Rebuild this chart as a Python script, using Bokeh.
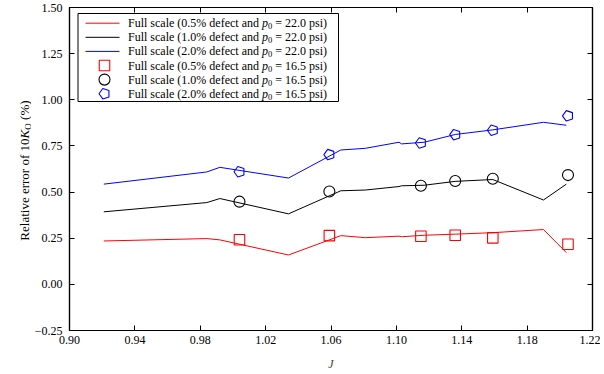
import numpy as np
from bokeh.plotting import figure
from bokeh.layouts import row
from bokeh.core.properties import value
from bokeh.models import (Range1d, FixedTicker, LinearAxis, ColumnDataSource,
                          Ngon, PrintfTickFormatter)
from bokeh.embed import file_html
from bokeh.resources import INLINE

# ---- data -------------------------------------------------------------
# advance coefficient J for the p0 = 22.0 psi computations (lines)
J_line = [0.921, 0.984, 0.992, 1.034, 1.066, 1.081, 1.1016, 1.1032,
          1.117, 1.136, 1.159, 1.190, 1.204]
err_05_220 = [0.235, 0.248, 0.241, 0.159, 0.264, 0.253, 0.261, 0.258,
              0.266, 0.272, 0.280, 0.297, 0.172]
err_10_220 = [0.393, 0.443, 0.465, 0.382, 0.507, 0.511, 0.530, 0.534,
              0.537, 0.558, 0.568, 0.457, 0.543]
err_20_220 = [0.543, 0.609, 0.634, 0.576, 0.728, 0.737, 0.770, 0.761,
              0.770, 0.812, 0.837, 0.878, 0.862]

# advance coefficient J for the p0 = 16.5 psi computations (markers)
J_mark = [1.004, 1.059, 1.115, 1.136, 1.159, 1.205]
err_05_165 = [0.242, 0.264, 0.261, 0.266, 0.252, 0.217]
err_10_165 = [0.448, 0.503, 0.534, 0.560, 0.572, 0.592]
err_20_165 = [0.610, 0.703, 0.766, 0.811, 0.835, 0.913]

x_ticks = [0.90, 0.94, 0.98, 1.02, 1.06, 1.10, 1.14, 1.18, 1.22]
y_ticks = [-0.25, 0.00, 0.25, 0.50, 0.75, 1.00, 1.25, 1.50]

# legend entries: defect size and inlet pressure p0 of each case
leg_defect = ["0.5%", "1.0%", "2.0%", "0.5%", "1.0%", "2.0%"]
leg_p0 = ["22.0", "22.0", "22.0", "16.5", "16.5", "16.5"]

# ---- layout constants ------------------------------------------------
FONT = "Liberation Serif"
W, H = 600, 374
TITLE_W = 31                      # strip holding the vertical y title
X0, X1 = 0.90, 1.22
Y0, Y1 = -0.25, 1.50
FL, FT, FW, FH = 69, 7, 523, 323  # plot frame placement on the page

# legend box geometry, page pixels
LEG_L, LEG_T, LEG_R, LEG_B = 77.5, 13.0, 338.0, 101.0
ROW0, ROW_STEP = 22.7, 14.1
SAMPLE_X0, SAMPLE_X1 = 85.0, 119.0
TEXT_X = 127.5

NO_SHRINK = {"flex-shrink": "0", "flex-grow": "0"}


def dx(px):
    """page x pixel -> J value in the main plot"""
    return X0 + (px - FL) / FW * (X1 - X0)


def dy(py):
    """page y pixel (from top) -> error value in the main plot"""
    return Y1 - (py - FT) / FH * (Y1 - Y0)


# ---- main plot -------------------------------------------------------
p = figure(width=W - TITLE_W, height=H, output_backend="svg",
           toolbar_location=None, styles=NO_SHRINK,
           x_range=Range1d(X0, X1), y_range=Range1d(Y0, Y1),
           min_border_left=FL - TITLE_W, min_border_right=W - FL - FW,
           min_border_top=FT, min_border_bottom=H - FT - FH)
p.xgrid.visible = False
p.ygrid.visible = False
p.outline_line_color = "black"
p.outline_line_width = 1.2


def style_axis(ax, ticks, show_labels):
    ax.ticker = FixedTicker(ticks=ticks)
    ax.major_tick_in = 5
    ax.major_tick_out = 0
    ax.minor_tick_line_color = None
    ax.axis_line_color = "black"
    ax.axis_line_width = 1.2
    ax.major_tick_line_width = 1
    ax.major_label_text_font = FONT
    if show_labels:
        ax.major_label_text_color = "black"
        ax.major_label_text_font_size = "12px"
    else:
        ax.major_label_text_color = None
        ax.major_label_text_font_size = "1px"
        ax.major_label_standoff = 0


bx = p.xaxis[0]
style_axis(bx, x_ticks, True)
bx.formatter = PrintfTickFormatter(format="%.2f")
bx.major_label_standoff = 5
bx.axis_label = "J"
bx.axis_label_text_font = FONT
bx.axis_label_text_font_style = "italic"
bx.axis_label_text_font_size = "12px"
bx.axis_label_standoff = 10

ly = p.yaxis[0]
style_axis(ly, y_ticks, True)
ly.formatter = PrintfTickFormatter(format="%.2f")
ly.major_label_overrides = {-0.25: "\u22120.25"}
ly.major_label_standoff = 7

top = LinearAxis()
style_axis(top, x_ticks, False)
p.add_layout(top, "above")
right = LinearAxis()
style_axis(right, y_ticks, False)
p.add_layout(right, "right")

# ---- series -----------------------------------------------------------
colors = ["red", "black", "blue"]
for ys, c in zip([err_05_220, err_10_220, err_20_220], colors):
    p.line(J_line, ys, line_color=c, line_width=1)

p.scatter(J_mark, err_05_165, marker="square", size=10.5,
          fill_color=None, line_color="red", line_width=1.1)
p.scatter(J_mark, err_10_165, marker="circle", size=11,
          fill_color=None, line_color="black", line_width=1.1)


def pentagons(xs, ys):
    src = ColumnDataSource(dict(x=xs, y=ys))
    p.add_glyph(src, Ngon(x="x", y="y", radius=5.5, radius_units="screen",
                          n=5, angle=np.pi / 2, fill_color=None,
                          line_color="blue", line_width=1.1))


pentagons(J_mark, err_20_165)

# ---- legend (italic p with subscript 0 in every entry) -----------------
rows_y = [ROW0 + i * ROW_STEP for i in range(len(leg_defect))]
p.quad(left=[dx(LEG_L)], right=[dx(LEG_R)], top=[dy(LEG_T)], bottom=[dy(LEG_B)],
       fill_color="white", line_color="black", line_width=1)
# line samples for the three p0 = 22.0 psi cases
p.segment(x0=[dx(SAMPLE_X0)] * 3, x1=[dx(SAMPLE_X1)] * 3,
          y0=[dy(v) for v in rows_y[:3]], y1=[dy(v) for v in rows_y[:3]],
          line_color=colors, line_width=1)
# marker samples for the three p0 = 16.5 psi cases
mid_x = dx((SAMPLE_X0 + SAMPLE_X1) / 2 + 2)
p.scatter([mid_x], [dy(rows_y[3])], marker="square", size=10.5,
          fill_color=None, line_color="red", line_width=1.1)
p.scatter([mid_x], [dy(rows_y[4])], marker="circle", size=11,
          fill_color=None, line_color="black", line_width=1.1)
pentagons([mid_x], [dy(rows_y[5])])

W_HEAD = 134.0   # width of "Full scale (x.x% defect and " at 12px
W_P = 6.0        # italic p
W_SUB = 4.3      # subscript 0
W_SP = 3.0       # word space
txt_kw = dict(text_font=value(FONT), text_baseline="middle", text_align="left",
              text_color="black")
p.text(x=[dx(TEXT_X)] * 6, y=[dy(v) for v in rows_y],
       text=[f"Full scale ({d} defect and" for d in leg_defect],
       text_font_size=value("12px"), **txt_kw)
p.text(x=[dx(TEXT_X + W_HEAD)] * 6, y=[dy(v) for v in rows_y],
       text=["p"] * 6, text_font_size=value("12px"), text_font_style="italic",
       **txt_kw)
p.text(x=[dx(TEXT_X + W_HEAD + W_P)] * 6, y=[dy(v + 3) for v in rows_y],
       text=["0"] * 6, text_font_size=value("8.5px"), **txt_kw)
p.text(x=[dx(TEXT_X + W_HEAD + W_P + W_SUB + W_SP)] * 6,
       y=[dy(v) for v in rows_y],
       text=[f"= {v} psi)" for v in leg_p0],
       text_font_size=value("12px"), **txt_kw)

# ---- vertical y title strip (italic K, subscript Q) ---------------------
t = figure(frame_width=TITLE_W, frame_height=H, output_backend="svg",
           toolbar_location=None, title=None, styles=NO_SHRINK,
           x_range=Range1d(0, TITLE_W), y_range=Range1d(0, H),
           x_axis_location=None, y_axis_location=None,
           min_border=0, outline_line_color=None)
t.xgrid.visible = False
t.ygrid.visible = False

base_x = 24      # baseline of the rotated text, px from the page's left edge
k_start = 131    # page y (from top) where the italic K begins
parts = [
    # text, x offset, distance above k_start, size, style, align
    ("Relative error of 10", 0, 0.0, "13px", "normal", "right"),
    ("K", 0, 0.0, "13px", "italic", "left"),
    ("Q", 3, 8.7, "9px", "normal", "left"),
    ("(%)", 0, 18.6, "13px", "normal", "left"),
]
for txt, off_x, up, fs, st, al in parts:
    t.text(x=[base_x + off_x], y=[H - (k_start - up)], text=[txt],
           angle=np.pi / 2, text_align=al, text_baseline="alphabetic",
           text_font=value(FONT), text_font_size=value(fs),
           text_font_style=st, text_color="black")

layout = row(t, p, spacing=0)
open("out.html", "w").write(file_html(layout, INLINE))
